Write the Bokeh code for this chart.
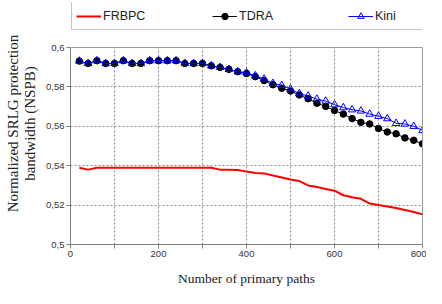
from bokeh.plotting import figure
from bokeh.models import (Range1d, FixedTicker, CustomJSTickFormatter, Legend, LegendItem,
                          BoxAnnotation, Span, LinearAxis)
from bokeh.embed import file_html
from bokeh.resources import INLINE

paths = [20, 40, 60, 80, 100, 120, 140, 160, 180, 200,
         220, 240, 260, 280, 300, 320, 340, 360, 380, 400,
         420, 440, 460, 480, 500, 520, 540, 560, 580, 600,
         620, 640, 660, 680, 700, 720, 740, 760, 780, 800]

frbpc = [0.5390, 0.5380, 0.5390, 0.5390, 0.5390, 0.5390, 0.5390, 0.5390, 0.5390, 0.5390,
         0.5390, 0.5390, 0.5390, 0.5390, 0.5390, 0.5390, 0.5380, 0.5380, 0.5378, 0.5370,
         0.5363, 0.5361, 0.5350, 0.5340, 0.5330, 0.5322, 0.5300, 0.5292, 0.5282, 0.5273,
         0.5250, 0.5240, 0.5232, 0.5208, 0.5200, 0.5193, 0.5185, 0.5175, 0.5165, 0.5153]

tdra = [0.5931, 0.5919, 0.5933, 0.5919, 0.5919, 0.5933, 0.5919, 0.5919, 0.5933, 0.5933,
        0.5933, 0.5933, 0.5919, 0.5919, 0.5919, 0.5907, 0.5899, 0.5889, 0.5877, 0.5868,
        0.5852, 0.5832, 0.5811, 0.5793, 0.5779, 0.5759, 0.5740, 0.5717, 0.5701, 0.5680,
        0.5662, 0.5639, 0.5620, 0.5612, 0.5589, 0.5571, 0.5562, 0.5541, 0.5529, 0.5511]

kini = [0.5931, 0.5919, 0.5933, 0.5919, 0.5919, 0.5933, 0.5919, 0.5919, 0.5933, 0.5933,
        0.5933, 0.5933, 0.5919, 0.5919, 0.5919, 0.5907, 0.5899, 0.5889, 0.5877, 0.5872,
        0.5857, 0.5840, 0.5818, 0.5808, 0.5789, 0.5766, 0.5754, 0.5738, 0.5728, 0.5710,
        0.5695, 0.5684, 0.5678, 0.5662, 0.5651, 0.5639, 0.5615, 0.5612, 0.5600, 0.5579]

series_names = ["FRBPC", "TDRA", "Kini"]
x_ticks = [0, 100, 200, 300, 400, 500, 600, 700, 800]
y_ticks = [0.5, 0.52, 0.54, 0.56, 0.58, 0.6]
x_lo, x_hi = 0, 800
y_lo, y_hi = 0.5, 0.6

W, H = 426, 288
TOP, BOTTOM, LEFT, RIGHT = 2, 44, 70, 4
plot_h = 197                      # pixel height of the 0.5..0.6 plot area
frame_h = H - TOP - BOTTOM        # frame also holds the legend strip above 0.6
y_end = y_lo + (y_hi - y_lo) * frame_h / plot_h

p = figure(width=W, height=H, output_backend="svg", toolbar_location=None,
           x_range=Range1d(x_lo, x_hi), y_range=Range1d(y_lo, y_end),
           min_border_left=LEFT, min_border_right=RIGHT, min_border_top=TOP, min_border_bottom=BOTTOM)

p.background_fill_color = "white"
p.border_fill_color = "white"
p.outline_line_color = None

for ax in (p.xaxis[0], p.yaxis[0]):
    ax.axis_line_color = "#808080"
    ax.major_tick_line_color = "#808080"
    ax.major_tick_out = 4
    ax.major_tick_in = 0
    ax.minor_tick_line_color = None
    ax.major_label_text_font = "Liberation Sans"
    ax.major_label_text_font_size = "9.5px"
    ax.major_label_text_color = "#333333"
    ax.major_label_standoff = 2
    ax.axis_label_text_font = "Liberation Serif"
    ax.axis_label_text_font_style = "normal"
    ax.axis_label_text_color = "#222222"

p.yaxis.bounds = (y_lo, y_hi)
p.xaxis.ticker = FixedTicker(ticks=x_ticks)
p.yaxis.ticker = FixedTicker(ticks=y_ticks)
p.xaxis.formatter = CustomJSTickFormatter(code="return (Math.round(tick) % 200 == 0) ? String(Math.round(tick)) : '';")
p.yaxis.formatter = CustomJSTickFormatter(code="return String(Math.round(tick*100)/100).replace('.', ',');")
p.xaxis.axis_label = "Number of primary paths"
p.xaxis.axis_label_text_font_size = "13.5px"
p.xaxis.axis_label_standoff = 11
p.yaxis.axis_label = "Normalized SRLG protection\nbandwidth (NSPB)"
p.yaxis.axis_label_text_font_size = "15px"
p.yaxis.axis_label_text_line_height = 1.05
p.yaxis.axis_label_standoff = 5

# right border of the plot area (axis line only)
rax = LinearAxis(bounds=(y_lo, y_hi), ticker=FixedTicker(ticks=[]), axis_line_color="#9a9a9a",
                 major_tick_line_color=None, minor_tick_line_color=None,
                 major_label_text_font_size="0px", major_label_standoff=0)
p.add_layout(rax, "right")

for g in (p.xgrid[0], p.ygrid[0]):
    g.grid_line_color = "#8c8c8c"
    g.grid_line_dash = "2 2"
    g.grid_line_width = 1

r_fr = p.line(paths, frbpc, line_color="#ff0000", line_width=2)
r_td_l = p.line(paths, tdra, line_color="black", line_width=1)
r_td_m = p.scatter(paths, tdra, marker="circle", size=6.5, fill_color="black", line_color="black")
r_ki_l = p.line(paths, kini, line_color="#0000ff", line_width=1)
r_ki_m = p.scatter(paths, kini, marker="triangle", size=7.5, fill_color=None, line_color="#0000ff", line_width=1)

# white strip above the plot area (hides grid lines there) and the top border
p.add_layout(BoxAnnotation(bottom=y_hi, fill_color="white", fill_alpha=1, line_alpha=0))
p.add_layout(Span(location=y_hi, dimension="width", line_color="#9a9a9a", line_width=1))

legend = Legend(items=[LegendItem(label=series_names[0], renderers=[r_fr]),
                       LegendItem(label=series_names[1], renderers=[r_td_l, r_td_m]),
                       LegendItem(label=series_names[2], renderers=[r_ki_l, r_ki_m])],
                orientation="horizontal", location=(1, 214), padding=4, margin=0,
                spacing=63, glyph_width=25, glyph_height=16, label_standoff=2,
                label_width=46, label_height=19,
                label_text_font="Liberation Sans", label_text_font_size="12.5px",
                label_text_color="#222222", border_line_color="#8a8a8a",
                background_fill_color="white", background_fill_alpha=1)
p.add_layout(legend, "center")

open("out.html", "w").write(file_html(p, INLINE))
